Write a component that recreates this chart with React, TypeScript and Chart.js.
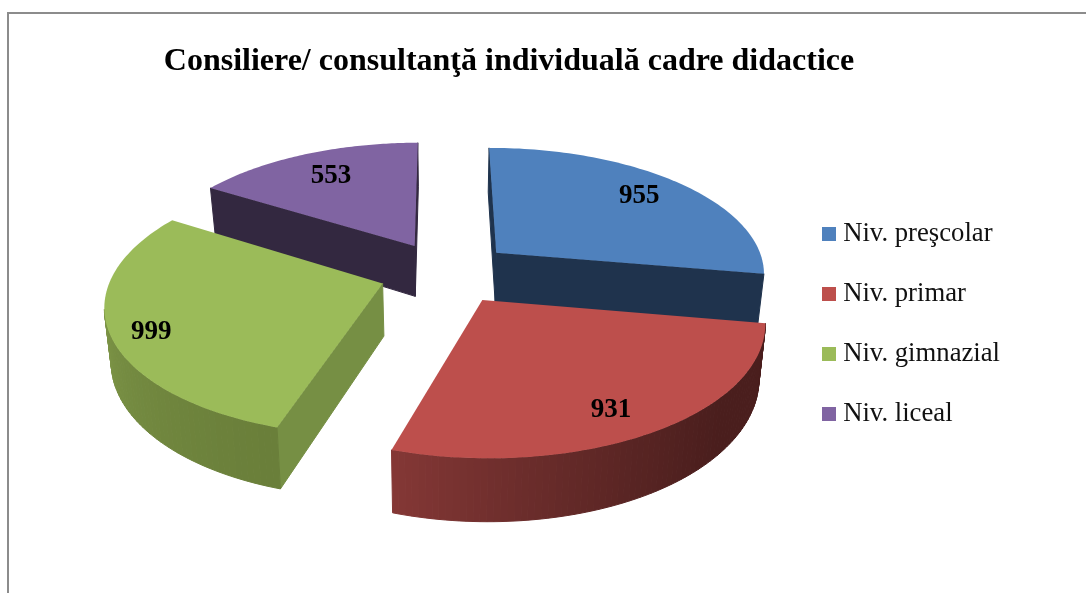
import React, { useEffect, useRef } from "react";
import { Chart, registerables } from "chart.js";

Chart.register(...registerables);

const categories = ["Niv. preşcolar", "Niv. primar", "Niv. gimnazial", "Niv. liceal"];
const values = [955, 931, 999, 553];
const topColors = ["#4F81BD", "#BD4F4C", "#9BBB59", "#8064A2"];
const cutWallColors = ["#1F334D", "#4C1F1E", "#768F44", "#332840"];
const outerWallStart = ["#1F334D", "#4A1E1D", "#6A7F3A", "#332840"];
const outerWallEnd = ["#1F334D", "#853836", "#8EA952", "#332840"];
const shadeStart = [0, 0.3, 0, 0];
const labelRadius = [0.78, 0.832, 0.865, 0.74];
const labelAngleShift = [0, 3.1, -4, 0];
const paintOrder = [3, 0, 2, 1];
const titleText = "Consiliere/ consultanţă individuală cadre didactice";

const SERIF = "'Liberation Serif', 'Times New Roman', serif";
const SHIFT_X = 44.5;
const SHIFT_Y = -52.3;
const TILT = 0.466;
const PERSPECTIVE = 0.00055;
const DEPTH = 52;
const CONVERGE = 0.02;

function hexMix(a: string, b: string, t: number) {
  const p = (h: string, i: number) => parseInt(h.slice(i, i + 2), 16);
  const c = [1, 3, 5].map((i) => Math.round(p(a, i) + (p(b, i) - p(a, i)) * t));
  return `rgb(${c[0]},${c[1]},${c[2]})`;
}

function swatch(color: string) {
  const c = document.createElement("canvas");
  c.width = 14;
  c.height = 14;
  const g = c.getContext("2d")!;
  g.fillStyle = color;
  g.fillRect(0, 0, 14, 14);
  return c;
}

const pie3d = {
  id: "pie3d",
  beforeDraw(chart: any) {
    const { ctx, width, height } = chart;
    ctx.save();
    ctx.fillStyle = "#fff";
    ctx.fillRect(0, 0, width, height);
    ctx.strokeStyle = "#8C8C8C";
    ctx.lineWidth = 2;
    ctx.beginPath();
    ctx.moveTo(8, height);
    ctx.lineTo(8, 13);
    ctx.lineTo(width, 13);
    ctx.stroke();
    ctx.restore();
  },
  beforeDatasetDraw() {
    return false;
  },
  afterDatasetsDraw(chart: any) {
    const { ctx } = chart;
    const arcs = chart.getDatasetMeta(0).data;
    const projector = (arc: any) => {
      const cx = arc.x + SHIFT_X;
      const cy = arc.y + SHIFT_Y;
      const mid = (arc.startAngle + arc.endAngle) / 2;
      const off = arc.options.offset;
      const ox = Math.cos(mid) * off;
      const oy = Math.sin(mid) * off;
      return (angle: number | null, r: number, z: number) => {
        const X = ox + (angle === null ? 0 : Math.cos(angle) * r);
        const Y = oy + (angle === null ? 0 : Math.sin(angle) * r);
        const s = 1 / (1 - PERSPECTIVE * Y);
        return {
          x: cx + X * s * (1 - CONVERGE * z),
          y: cy + (TILT * Y + DEPTH * z) * s,
        };
      };
    };
    const quad = (a: any, b: any, c: any, d: any, color: string) => {
      ctx.fillStyle = color;
      ctx.strokeStyle = color;
      ctx.lineWidth = 1;
      ctx.beginPath();
      ctx.moveTo(a.x, a.y);
      ctx.lineTo(b.x, b.y);
      ctx.lineTo(c.x, c.y);
      ctx.lineTo(d.x, d.y);
      ctx.closePath();
      ctx.fill();
      ctx.stroke();
    };
    ctx.save();
    ctx.lineJoin = "round";
    paintOrder.forEach((i) => {
      const arc = arcs[i];
      const R = arc.outerRadius;
      const P = projector(arc);
      const N = 80;
      const angleAt = (k: number) => arc.startAngle + ((arc.endAngle - arc.startAngle) * k) / N;
      const wall = (a: any, b: any, color: string) => {
        const [t1, t2, b2, b1] = [P(a, a === null ? 0 : R, 0), P(b, b === null ? 0 : R, 0), P(b, b === null ? 0 : R, 1), P(a, a === null ? 0 : R, 1)];
        if (t2.x < t1.x) quad(t1, t2, b2, b1, color);
      };
      wall(null, arc.startAngle, cutWallColors[i]);
      wall(arc.endAngle, null, cutWallColors[i]);
      for (let k = 0; k < N; k++) {
        const a = angleAt(k);
        const b = angleAt(k + 1);
        const t1 = P(a, R, 0);
        const t2 = P(b, R, 0);
        if (t2.x < t1.x) {
          const t = Math.max(0, (k / N - shadeStart[i]) / (1 - shadeStart[i]));
          quad(t1, t2, P(b, R, 1), P(a, R, 1), hexMix(outerWallStart[i], outerWallEnd[i], Math.pow(t, 1.3)));
        }
      }
      ctx.fillStyle = topColors[i];
      ctx.beginPath();
      const apex = P(null, 0, 0);
      ctx.moveTo(apex.x, apex.y);
      for (let k = 0; k <= N; k++) {
        const p = P(angleAt(k), R, 0);
        ctx.lineTo(p.x, p.y);
      }
      ctx.closePath();
      ctx.fill();
    });
    ctx.fillStyle = "#000";
    ctx.font = `bold 27px ${SERIF}`;
    ctx.textAlign = "center";
    ctx.textBaseline = "middle";
    arcs.forEach((arc: any, i: number) => {
      const P = projector(arc);
      const angle = (arc.startAngle + arc.endAngle) / 2 + (labelAngleShift[i] * Math.PI) / 180;
      const p = P(angle, arc.outerRadius * labelRadius[i], 0);
      ctx.fillText(String(chart.data.datasets[0].data[i]), p.x, p.y);
    });
    ctx.restore();
  },
};

export default function App() {
  const ref = useRef<HTMLCanvasElement>(null);
  useEffect(() => {
    const chart = new Chart(ref.current!, {
      type: "pie",
      data: {
        labels: categories,
        datasets: [
          {
            data: values,
            backgroundColor: topColors,
            borderWidth: 0,
            offset: 67,
            radius: 270,
          } as any,
        ],
      },
      plugins: [pie3d],
      options: {
        responsive: false,
        animation: false,
        rotation: -0.2,
        layout: { padding: { left: 8, right: 76, bottom: 25 } },
        plugins: {
          tooltip: { enabled: false },
          title: {
            display: true,
            text: titleText,
            color: "#000",
            font: { family: SERIF, size: 32, weight: "bold" },
            padding: { top: 43, bottom: 0 },
          },
          legend: {
            position: "right",
            title: { display: true, text: "", font: { size: 1 }, padding: { top: 0, bottom: 79 } },
            labels: {
              color: "#111",
              font: { family: SERIF, size: 26.7 },
              padding: 33.3,
              usePointStyle: true,
              pointStyleWidth: 1,
              boxHeight: 14,
              generateLabels: () =>
                categories.map((text, i) => ({
                  text,
                  index: i,
                  fontColor: "#111",
                  fillStyle: topColors[i],
                  strokeStyle: topColors[i],
                  lineWidth: 0,
                  pointStyle: swatch(topColors[i]),
                })),
            },
          },
        },
      } as any,
    });
    return () => chart.destroy();
  }, []);
  return (
    <canvas
      ref={ref}
      width={1086}
      height={593}
      style={{ position: "absolute", left: 0, top: 0, display: "block" }}
    />
  );
}
